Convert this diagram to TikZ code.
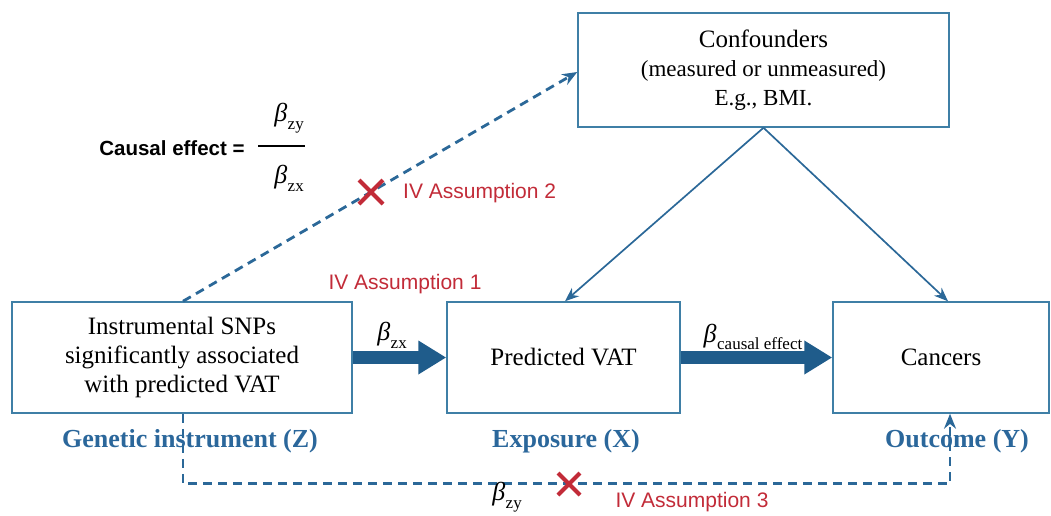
\documentclass[tikz,border=0pt]{standalone}
\usepackage{fontspec}
\setmainfont{Liberation Serif}
\newfontfamily\arialf{Liberation Sans}
\usetikzlibrary{arrows.meta,calc}
\definecolor{boxc}{HTML}{3F7FA6}
\definecolor{arrc}{HTML}{1F5C8B}
\definecolor{linec}{HTML}{2B6898}
\definecolor{labc}{HTML}{2B679B}
\definecolor{redc}{HTML}{C22B38}
\newcommand{\bsym}[1]{{\itshape β}\kern0.5pt\raisebox{-0.3em}{\fontsize{17}{17}\selectfont #1}}
\tikzset{
  boxn/.style={draw=boxc, line width=1.5pt, align=center, inner sep=0pt, font=\fontsize{25}{29}\selectfont},
  lab/.style={font=\fontsize{26}{30}\selectfont\bfseries, text=labc, inner sep=0pt},
  iv/.style={font=\arialf\fontsize{21}{24}\selectfont, text=redc, inner sep=0pt},
  bigarr/.style={draw=arrc, line width=13.5pt, -{Triangle[length=28pt,width=32pt]}},
  thinarr/.style={draw=linec, line width=1.7pt, -{Stealth[length=14pt,width=11pt]}},
  dsharr/.style={draw=linec, line width=2.8pt, dash pattern=on 9pt off 6pt, -{Stealth[length=15pt,width=12pt]}},
  cross/.style={draw=redc, line width=4pt},
  beta/.style={font=\fontsize{26}{29}\selectfont, inner sep=0pt}
}
\begin{document}
\begin{tikzpicture}[x=1pt,y=-1pt]
\useasboundingbox (0,0) rectangle (1051,515);

% boxes
\node[boxn, minimum width=340pt, minimum height=111pt] (zbox) at (182,357.5)
  {Instrumental SNPs\\significantly associated\\with predicted VAT};
\node[boxn, minimum width=233pt, minimum height=111pt] (xbox) at (563.5,357.5) {Predicted VAT};
\node[boxn, minimum width=216pt, minimum height=111pt] (ybox) at (941,357.5) {Cancers};
\node[boxn, minimum width=371pt, minimum height=114pt] (conf) at (763.5,70)
  {Confounders\\{\fontsize{23}{28}\selectfont (measured or unmeasured)}\\{\fontsize{23}{28}\selectfont E.g., BMI.}};

% labels under boxes
\node[lab] (zlab) at (190,441) {Genetic instrument (Z)};
\node[lab] (xlab) at (566,441) {Exposure (X)};
\node[lab] (ylab) at (957,441) {Outcome (Y)};

% thick arrows
\draw[bigarr] (zbox.east) -- (xbox.west);
\draw[bigarr] (xbox.east) -- (ybox.west);
\node[beta] (bzx1) at (392,335) {\bsym{zx}};
\node[beta] (bce) at (753,337) {\bsym{causal effect}};

% confounder arrows
\draw[thinarr] (conf.south) -- ($(xbox.north)+(1.5,0)$);
\draw[thinarr] (conf.south) -- ($(ybox.north)+(7,0)$);

% dashed arrows
\draw[dsharr] ($(zbox.north)+(1,0)$) -- ($(conf.west)+(0,2)$);
\draw[dsharr] ($(zbox.south)+(1,0)$) -- ++(0,70) -| ($(ybox.south)+(9,0)$);

% red crosses
\coordinate (c2) at (371,192);
\draw[cross] ($(c2)+(-12,-12)$) -- ($(c2)+(12,12)$);
\draw[cross] ($(c2)+(-12,12)$) -- ($(c2)+(12,-12)$);
\coordinate (c3) at (569,484);
\draw[cross] ($(c3)+(-11,-11)$) -- ($(c3)+(11,11)$);
\draw[cross] ($(c3)+(-11,11)$) -- ($(c3)+(11,-11)$);

% IV assumption labels
\node[iv, anchor=west] (iv2) at (403,193) {IV Assumption 2};
\node[iv] (iv1) at (405,284) {IV Assumption 1};
\node[iv] (iv3) at (692,502) {IV Assumption 3};
\node[beta] (bzy3) at (507,497) {\bsym{zy}};

% causal effect formula
\node[font=\arialf\bfseries\fontsize{20.5}{24}\selectfont, inner sep=0pt] (ce) at (172,148) {Causal effect =};
\node[beta] (fzy) at (289,118) {\bsym{zy}};
\node[beta] (fzx) at (289,178) {\bsym{zx}};
\coordinate (fl) at (258,146);
\coordinate (fr) at (305,146);
\draw[line width=1.5pt] (fl) -- (fr);
\end{tikzpicture}
\end{document}
